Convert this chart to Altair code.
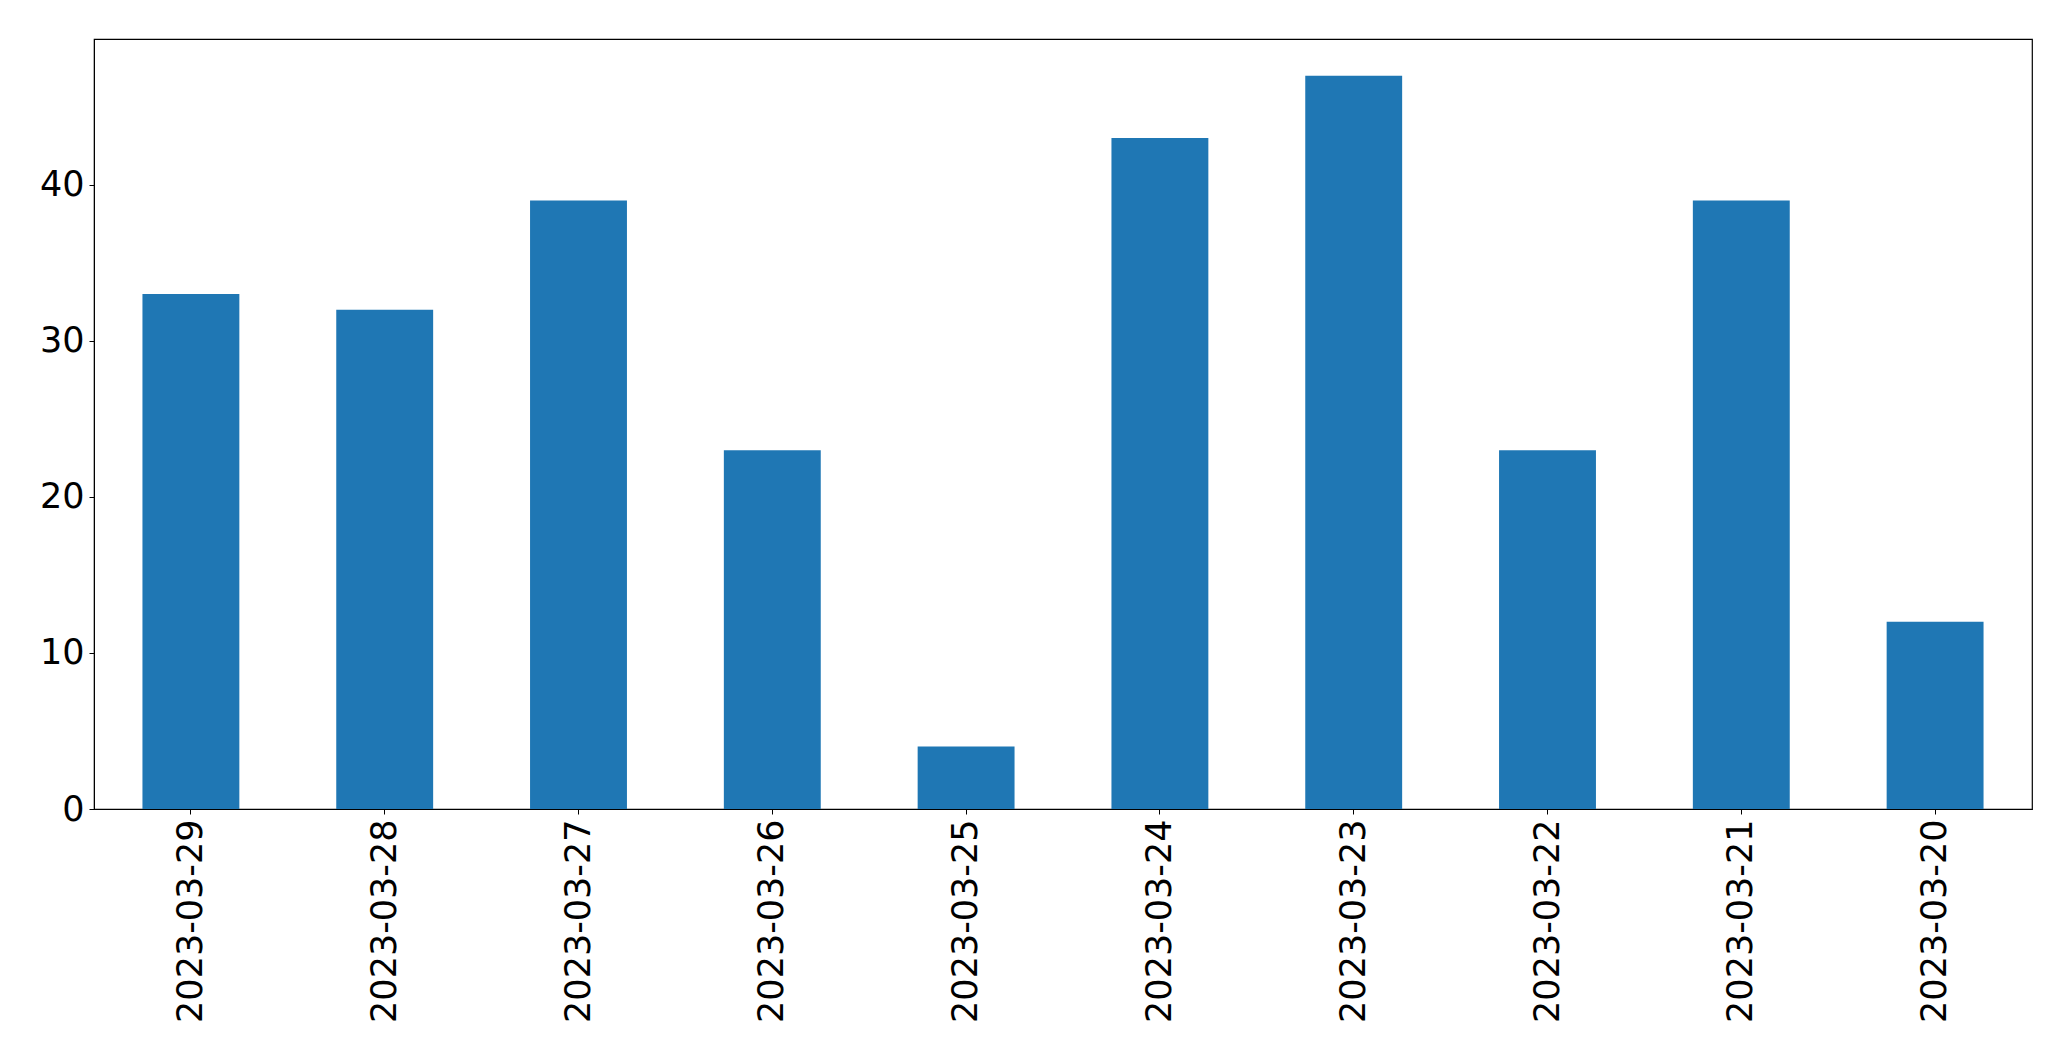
import altair as alt
import pandas as pd

dates = ["2023-03-29", "2023-03-28", "2023-03-27", "2023-03-26", "2023-03-25",
         "2023-03-24", "2023-03-23", "2023-03-22", "2023-03-21", "2023-03-20"]
counts = [33, 32, 39, 23, 4, 43, 47, 23, 39, 12]
y_ticks = [0, 10, 20, 30, 40]

df = pd.DataFrame({"date": dates, "count": counts})

font = "DejaVu Sans"

chart = alt.Chart(df).mark_bar(color="#1f77b4").encode(
    x=alt.X("date:N", sort=None, title=None,
            scale=alt.Scale(paddingInner=0.5, paddingOuter=0.25),
            axis=alt.Axis(labelAngle=-90, labelFontSize=35, labelFont=font,
                          labelColor="black", tickColor="black", tickSize=5,
                          labelPadding=5, labelLimit=0, domainColor="black",
                          grid=False)),
    y=alt.Y("count:Q", title=None,
            scale=alt.Scale(domain=[0, 49.35], nice=False, zero=True),
            axis=alt.Axis(values=y_ticks, labelFontSize=35, labelFont=font,
                          labelColor="black", tickColor="black", tickSize=5,
                          labelPadding=5, domainColor="black", grid=False)),
).properties(
    width=1938, height=770,
    autosize=alt.AutoSizeParams(type="none"),
    padding={"left": 86, "top": 31, "right": 30, "bottom": 240},
).configure_view(stroke="black", strokeWidth=1.2)

chart.save("out.html", embed_options={"renderer": "svg", "actions": False})
